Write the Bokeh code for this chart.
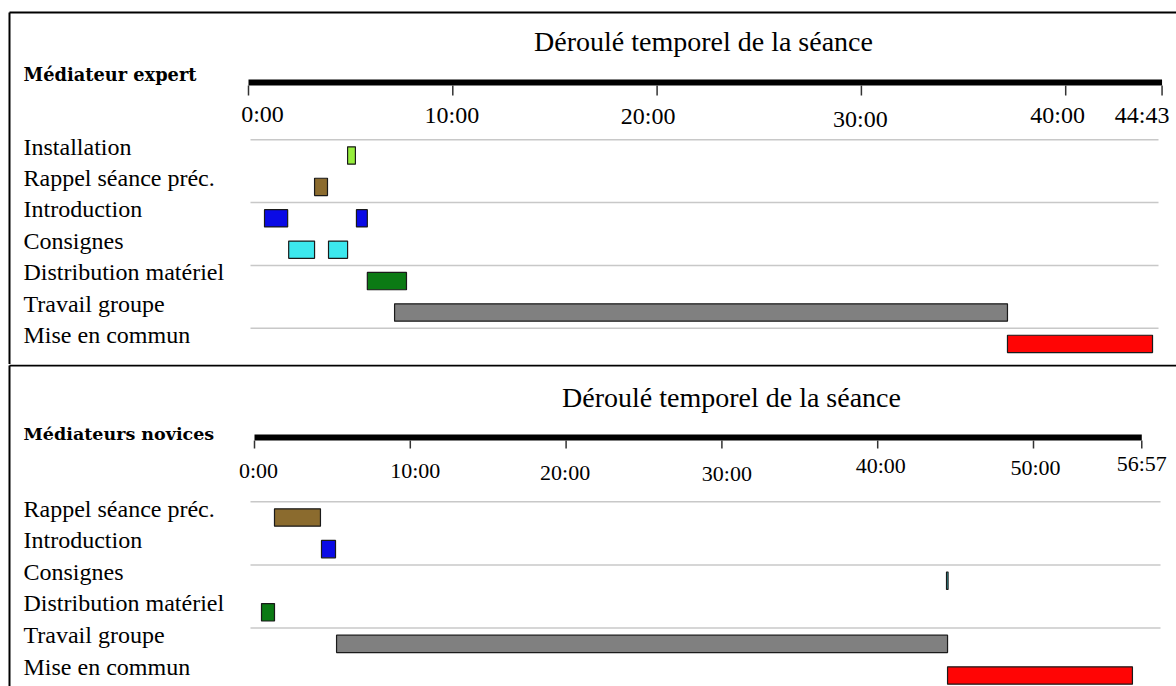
from bokeh.plotting import figure
from bokeh.models import Range1d, ColumnDataSource
from bokeh.layouts import column
from bokeh.embed import file_html
from bokeh.resources import INLINE
from bokeh.core.properties import value

# ---------------- data ----------------
chart_title = "Déroulé temporel de la séance"

expert_group = "Médiateur expert"
expert_categories = ["Installation", "Rappel séance préc.", "Introduction", "Consignes",
                     "Distribution matériel", "Travail groupe", "Mise en commun"]
expert_activity = ["Installation", "Rappel séance préc.", "Introduction", "Introduction",
                   "Consignes", "Consignes", "Distribution matériel", "Travail groupe", "Mise en commun"]
expert_start_s = [291, 194, 47, 317, 118, 235, 349, 429, 2229]
expert_end_s = [314, 232, 115, 349, 194, 291, 464, 2229, 2655]
expert_duration_s = 2683          # 44:43
expert_tick_minutes = [0, 10, 20, 30, 40]

novice_group = "Médiateurs novices"
novice_categories = ["Rappel séance préc.", "Introduction", "Consignes",
                     "Distribution matériel", "Travail groupe", "Mise en commun"]
novice_activity = ["Rappel séance préc.", "Introduction", "Consignes",
                   "Distribution matériel", "Travail groupe", "Mise en commun"]
novice_start_s = [77, 258, 2665, 27, 316, 2669]
novice_end_s = [254, 312, 2671, 77, 2669, 3381]
novice_duration_s = 3417          # 56:57
novice_tick_minutes = [0, 10, 20, 30, 40, 50]

# ---------------- styles ----------------
COLORS = {
    "Installation": "#96ee3c",
    "Rappel séance préc.": "#8b6b2e",
    "Introduction": "#0a0ae6",
    "Consignes": "#3ce8ee",
    "Distribution matériel": "#0b7a14",
    "Travail groupe": "#808080",
    "Mise en commun": "#ff0505",
}
SERIF = "Liberation Serif"
BOLD_SERIF = "DejaVu Serif"
WIDTH = 1176
BASE_SHIFT = 0.4   # empirical baseline correction (em)


def fmt(sec):
    return f"{sec // 60}:{sec % 60:02d}"


def shift(size_px):
    return -round(BASE_SHIFT * size_px)


def build_panel(group, categories, activity, start_s, end_s, duration_s, tick_minutes, L):
    H = L["height"]
    x0, pps = L["x0"], L["px_per_min"] / 60.0
    r0, step = L["row0"], L["row_step"]

    def xd(px):
        return (px - x0) / pps

    def yd(px):
        return (px - r0) / step

    p = figure(width=WIDTH, height=H,
               x_range=Range1d(xd(0), xd(WIDTH)), y_range=Range1d(yd(H), yd(0)),
               toolbar_location=None, output_backend="svg",
               x_axis_location=None, y_axis_location=None,
               min_border=0, outline_line_color=None,
               background_fill_color="white", border_fill_color="white")
    p.grid.visible = False

    # frame lines (border)
    by = yd(L["border_y"])
    p.segment(x0=[xd(L["border_x"])], x1=[xd(WIDTH)], y0=[by], y1=[by], line_color="black", line_width=2)
    p.segment(x0=[xd(L["border_x"])], x1=[xd(L["border_x"])], y0=[by], y1=[yd(H)],
              line_color="black", line_width=2)

    n = len(categories)
    # light grid lines every two rows
    gy = [i - 0.5 for i in range(0, n, 2)]
    p.segment(x0=[xd(L["grid_start"])] * len(gy), x1=[xd(L["grid_end"])] * len(gy), y0=gy, y1=gy,
              line_color="#c8c8c8", line_width=1.5)

    # timeline axis
    ay = yd(L["axis_y"])
    p.segment(x0=[0], x1=[duration_s], y0=[ay], y1=[ay], line_color="black", line_width=6, line_cap="butt")
    tick_vals = [m * 60 for m in tick_minutes] + [duration_s]
    p.segment(x0=tick_vals, x1=tick_vals, y0=[yd(L["tick_top"])] * len(tick_vals),
              y1=[yd(L["tick_bottom"])] * len(tick_vals), line_color="#333333", line_width=1.5)
    ts = L["tick_font"]
    tsrc = ColumnDataSource(dict(x=tick_vals, y=[yd(L["tick_base"])] * len(tick_vals),
                                 t=[fmt(v) for v in tick_vals], dx=L["tick_dx"],
                                 dy=[d + shift(ts) for d in L["tick_dy"]]))
    p.text(x="x", y="y", text="t", x_offset="dx", y_offset="dy", text_align="center",
           text_baseline="alphabetic", text_font=value(SERIF), text_font_size=f"{ts}px",
           text_color="black", source=tsrc)

    # chart title
    p.text(x=[xd(L["title_x"])], y=[yd(L["title_base"])], text=[chart_title], text_align="center",
           text_baseline="alphabetic", y_offset=shift(28), text_font=value(SERIF),
           text_font_size="28px", text_color="black")

    # group label
    gs = L["group_font"]
    p.text(x=[xd(L["label_left"])], y=[yd(L["group_base"])], text=[group], text_align="left",
           text_baseline="alphabetic", y_offset=shift(gs), text_font=value(BOLD_SERIF),
           text_font_style="bold", text_font_size=f"{gs}px", text_color="black")

    # row labels
    p.text(x=[xd(L["label_left"])] * n, y=list(range(n)), text=categories, text_align="left",
           text_baseline="alphabetic", y_offset=1 + shift(24), text_font=value(SERIF),
           text_font_size="24px", text_color="black")

    # bars
    src = ColumnDataSource(dict(row=[categories.index(a) for a in activity], start=start_s, end=end_s,
                                color=[COLORS[a] for a in activity]))
    p.hbar(y="row", left="start", right="end", height=0.55, fill_color="color",
           line_color="#1a1a1a", line_width=1.2, source=src)
    return p


top_layout = dict(height=364, x0=248, px_per_min=20.43, row0=155, row_step=31.4,
                  border_x=9, border_y=12, grid_start=250, grid_end=1158,
                  axis_y=82, tick_top=85, tick_bottom=95,
                  tick_base=124, tick_font=24,
                  tick_dx=[14, -1, -9, -1, -8, -20], tick_dy=[-1, 0, 1, 4, 0, 0],
                  title_x=703, title_base=52, group_base=81, group_font=17.8, label_left=23)
bottom_layout = dict(height=322, x0=254, px_per_min=15.58, row0=153, row_step=31.6,
                     border_x=9, border_y=1, grid_start=250, grid_end=1160,
                     axis_y=73, tick_top=76, tick_bottom=84,
                     tick_base=114, tick_font=22,
                     tick_dx=[4, 5, -1, 5, 3, 2, 0], tick_dy=[1, 1, 3, 4, -4, -2, -6],
                     title_x=731, title_base=44, group_base=76, group_font=17.5, label_left=23)

p1 = build_panel(expert_group, expert_categories, expert_activity, expert_start_s, expert_end_s,
                 expert_duration_s, expert_tick_minutes, top_layout)
p2 = build_panel(novice_group, novice_categories, novice_activity, novice_start_s, novice_end_s,
                 novice_duration_s, novice_tick_minutes, bottom_layout)

page = column(p1, p2, spacing=0)
with open("out.html", "w", encoding="utf-8") as f:
    f.write(file_html(page, INLINE, title="Déroulé temporel de la séance"))
